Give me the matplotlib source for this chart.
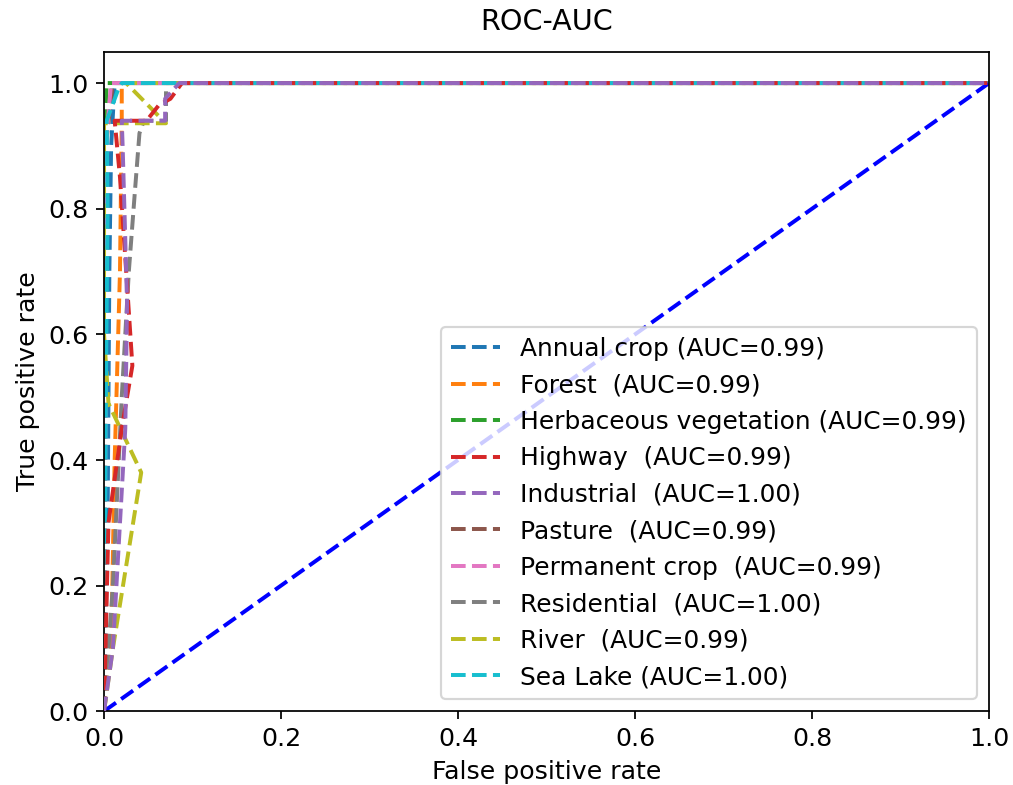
import matplotlib
matplotlib.use("Agg")
import matplotlib.pyplot as plt

classes = ["Annual crop", "Forest ", "Herbaceous vegetation", "Highway ", "Industrial ",
           "Pasture ", "Permanent crop ", "Residential ", "River ", "Sea Lake"]
auc = [0.99, 0.99, 0.99, 0.99, 1.00, 0.99, 0.99, 1.00, 0.99, 1.00]

# approximate ROC points
fpr_annual = [0, 0.004, 0.006, 0.008, 0.012, 1]
tpr_annual = [0, 0.3, 0.7, 0.9, 1.0, 1]
fpr_forest = [0, 0.008, 0.012, 0.018, 0.02, 0.02, 1]
tpr_forest = [0, 0.1, 0.4, 0.7, 0.94, 1.0, 1]
fpr_herb = [0, 0, 0.003, 1]
tpr_herb = [0, 0.9, 1.0, 1]
fpr_highway = [0, 0.005, 0.02, 0.032, 0.025, 0.018, 0.012, 0.048, 0.062, 0.075, 0.088, 1]
tpr_highway = [0, 0.3, 0.45, 0.55, 0.7, 0.85, 0.94, 0.94, 0.965, 0.975, 1.0, 1]
fpr_industrial = [0, 0.01, 0.024, 0.026, 0.021, 0.02, 0.069, 0.069, 0.085, 1]
tpr_industrial = [0, 0.1, 0.45, 0.65, 0.9, 0.94, 0.94, 0.975, 1.0, 1]
fpr_pasture = [0, 0.002, 0.01, 1]
tpr_pasture = [0, 0.9, 1.0, 1]
fpr_permanent = [0, 0.003, 0.008, 1]
tpr_permanent = [0, 0.92, 1.0, 1]
fpr_residential = [0, 0.01, 0.02, 0.028, 0.035, 0.04, 0.045, 0.07, 0.07, 1]
tpr_residential = [0, 0.2, 0.5, 0.7, 0.83, 0.92, 0.94, 0.94, 1.0, 1]
fpr_river = [0, 0.01, 0.042, 0.005, 0, 0, 0.07, 0.06, 0.025, 1]
tpr_river = [0, 0.1, 0.38, 0.49, 0.6, 0.936, 0.936, 0.95, 1.0, 1]
fpr_sealake = [0, 0.002, 0.004, 0.003, 0.016, 0.02, 1]
tpr_sealake = [0, 0.5, 0.8, 0.94, 0.99, 1.0, 1]

fprs = [fpr_annual, fpr_forest, fpr_herb, fpr_highway, fpr_industrial,
        fpr_pasture, fpr_permanent, fpr_residential, fpr_river, fpr_sealake]
tprs = [tpr_annual, tpr_forest, tpr_herb, tpr_highway, tpr_industrial,
        tpr_pasture, tpr_permanent, tpr_residential, tpr_river, tpr_sealake]

fig = plt.figure(figsize=(6.4, 4.96), dpi=158.3)
ax = fig.add_axes([0.1027, 0.094, 0.8736, 0.840])

# industrial and highway end up on top along the tpr=1 line in the original
order_z = {"Industrial ": 3.2, "Highway ": 3.1}
for name, a, f, t in zip(classes, auc, fprs, tprs):
    ax.plot(f, t, linestyle="--", lw=1.8, zorder=order_z.get(name, 2),
            label=f"{name} (AUC={a:.2f})")

ax.plot([0, 1], [0, 1], "b--", lw=1.8)

ax.set_xlim(0, 1)
ax.set_ylim(0, 1.05)
ax.tick_params(labelsize=11.5)
ax.set_title("ROC-AUC", fontsize=13, pad=10)
ax.set_xlabel("False positive rate", fontsize=11.5)
ax.set_ylabel("True positive rate", fontsize=11.5)
ax.legend(loc="lower right", fontsize=11.3)

plt.savefig("out.png", dpi=158.3)
